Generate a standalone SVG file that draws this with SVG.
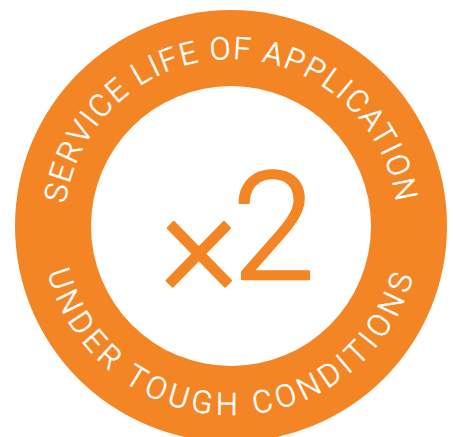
<svg xmlns="http://www.w3.org/2000/svg" width="453" height="437" viewBox="0 0 453 437">
<style>
.ring{fill:#F48524}
.hole{fill:#ffffff}
.arc{fill:#ffffff;stroke:#ffffff;stroke-width:0.5;font-family:Roboto,"Liberation Sans",sans-serif;font-size:31px;font-weight:300}
.big{fill:#F48524;stroke:#F48524;stroke-width:2.4;stroke-linejoin:round;font-family:Roboto,"Liberation Sans",sans-serif;font-size:150px;font-weight:300}
</style>
<defs>
<path id="topArc" d="M86.37 309.5 A167 167 0 1 1 375.63 309.5"/>
<path id="botArc" d="M67.32 131.5 A189 189 0 1 0 394.68 131.5"/>
</defs>
<rect width="453" height="437" fill="#ffffff"/>
<g id="badge">
<circle class="ring" cx="231" cy="226" r="216"/>
<circle class="hole" cx="231" cy="226" r="140"/>
</g>
<g id="labels">
<text class="arc" letter-spacing="1.8"><textPath href="#topArc" startOffset="50%" text-anchor="middle">SERVICE LIFE OF APPLICATION</textPath></text>
<text class="arc" letter-spacing="4.7"><textPath href="#botArc" startOffset="50%" text-anchor="middle">UNDER TOUGH CONDITIONS</textPath></text>
</g>
<g id="factor">
<text class="big" y="279"><tspan x="160" dy="15">×</tspan><tspan x="232" dy="-15">2</tspan></text>
</g>
</svg>
